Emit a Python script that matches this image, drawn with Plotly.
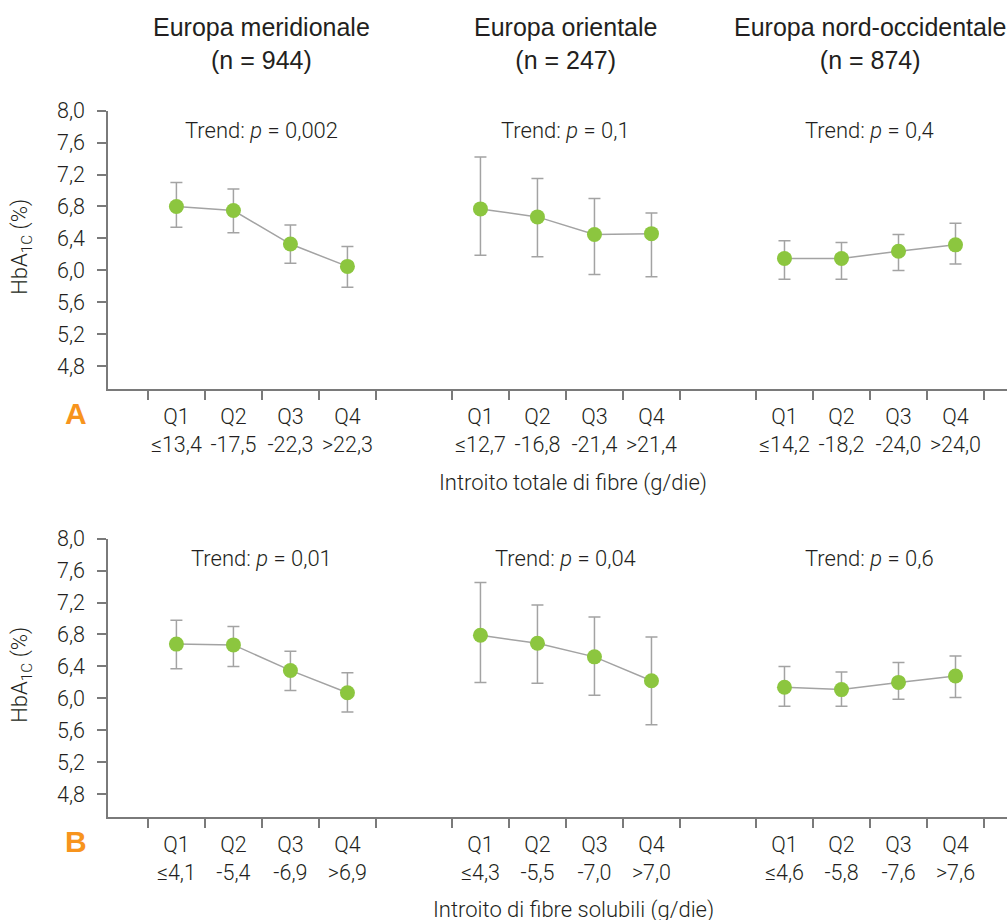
import plotly.graph_objects as go

# --- data -------------------------------------------------------------
regions = ["Europa meridionale", "Europa orientale", "Europa nord-occidentale"]
region_n = [944, 247, 874]
quartiles = ["Q1", "Q2", "Q3", "Q4"]

# Panel A: total fibre intake
cut_total = [["≤13,4", "-17,5", "-22,3", ">22,3"],
             ["≤12,7", "-16,8", "-21,4", ">21,4"],
             ["≤14,2", "-18,2", "-24,0", ">24,0"]]
hba_total = [[6.80, 6.75, 6.33, 6.05],
             [6.77, 6.67, 6.45, 6.46],
             [6.15, 6.15, 6.24, 6.32]]
hi_total = [[7.10, 7.02, 6.57, 6.30],
            [7.42, 7.15, 6.90, 6.72],
            [6.37, 6.35, 6.45, 6.59]]
lo_total = [[6.54, 6.47, 6.09, 5.79],
            [6.19, 6.17, 5.95, 5.92],
            [5.89, 5.89, 6.00, 6.08]]
p_total = ["0,002", "0,1", "0,4"]

# Panel B: soluble fibre intake
cut_sol = [["≤4,1", "-5,4", "-6,9", ">6,9"],
           ["≤4,3", "-5,5", "-7,0", ">7,0"],
           ["≤4,6", "-5,8", "-7,6", ">7,6"]]
hba_sol = [[6.68, 6.67, 6.35, 6.07],
           [6.79, 6.69, 6.52, 6.22],
           [6.14, 6.11, 6.20, 6.28]]
hi_sol = [[6.98, 6.90, 6.59, 6.32],
          [7.45, 7.17, 7.02, 6.77],
          [6.40, 6.33, 6.45, 6.53]]
lo_sol = [[6.37, 6.40, 6.10, 5.83],
          [6.20, 6.19, 6.04, 5.67],
          [5.90, 5.90, 5.99, 6.01]]
p_sol = ["0,01", "0,04", "0,6"]

y_ticks = [4.8, 5.2, 5.6, 6.0, 6.4, 6.8, 7.2, 7.6, 8.0]

# --- styling ----------------------------------------------------------
W, H = 1007, 920
GREEN = "#8cc63f"
GREY = "#a3a3a3"
AXIS = "#7a7a7a"
TEXT = "#231f20"
ORANGE = "#f7941d"
LIGHT = dict(family="Roboto, Liberation Sans, Arial", size=21.5, color=TEXT, weight=300)
REG = dict(family="Liberation Sans, Arial", size=25, color=TEXT)

GROUP = 16 / 3.0          # spacing between regional groups (x units)
X_RANGE = [-0.70, 15.07]
X_DOMAIN = [108 / W, 1.0]


def py(px):
    """Vertical page position (pixels from top) -> paper fraction."""
    return 1 - ((px - 11.2) / 0.989) / H


def px_x(u):
    """Data x -> paper fraction."""
    return (108 + (u - X_RANGE[0]) / (X_RANGE[1] - X_RANGE[0]) * (W - 108)) / W


rows = [
    dict(hba=hba_total, hi=hi_total, lo=lo_total, cut=cut_total, p=p_total,
         top=110, bottom=389, x="x", y="y", xl="x3",
         letter="A", title="Introito totale di fibre (g/die)", title_y=483),
    dict(hba=hba_sol, hi=hi_sol, lo=lo_sol, cut=cut_sol, p=p_sol,
         top=539, bottom=817.7, x="x2", y="y2", xl="x4",
         letter="B", title="Introito di fibre solubili (g/die)", title_y=911),
]

fig = go.Figure()
layout = dict(
    width=W, height=H, margin=dict(l=0, r=0, t=0, b=0),
    paper_bgcolor="white", plot_bgcolor="white", showlegend=False,
    separators=",.", font=LIGHT,
)
annotations = []

for r, row in enumerate(rows):
    dom = [py(row["bottom"]), py(row["top"])]
    for g in range(3):
        xs = [g * GROUP + i + 0.5 for i in range(4)]
        ys = row["hba"][g]
        plus = [h - v for h, v in zip(row["hi"][g], ys)]
        minus = [v - l for v, l in zip(ys, row["lo"][g])]
        fig.add_trace(go.Scatter(
            x=xs, y=ys, mode="lines+markers", xaxis=row["x"], yaxis=row["y"],
            line=dict(color=GREY, width=1.5),
            marker=dict(color=GREEN, size=15, line=dict(width=0)),
            error_y=dict(type="data", symmetric=False, array=plus, arrayminus=minus,
                         color=GREY, thickness=1.5, width=6),
            hoverinfo="skip",
        ))
        # category labels carried by an overlaid axis
        fig.add_trace(go.Scatter(
            x=xs, y=[None] * 4, mode="markers", xaxis=row["xl"], yaxis=row["y"],
            showlegend=False, hoverinfo="skip",
        ))
        cx = px_x(g * GROUP + 2)
        annotations.append(dict(
            x=cx, y=py(row["top"] + 20), xref="paper", yref="paper",
            text=f"Trend: <i>p</i> = {row['p'][g]}", showarrow=False,
            font=dict(LIGHT, size=22), xanchor="center", yanchor="middle"))
        if r == 0:
            annotations.append(dict(
                x=cx, y=py(42.5), xref="paper", yref="paper",
                text=f"{regions[g]}<br>(n = {region_n[g]})", showarrow=False,
                font=REG, xanchor="center", yanchor="middle"))

    boundaries = [g * GROUP + i for g in range(3) for i in range(5)]
    labels_x = [g * GROUP + i + 0.5 for g in range(3) for i in range(4)]
    labels_t = [f"{quartiles[i]}<br>{row['cut'][g][i]}" for g in range(3) for i in range(4)]

    ax_main = dict(
        domain=X_DOMAIN, range=X_RANGE, anchor=row["y"],
        showline=True, linecolor=AXIS, linewidth=1.5, showgrid=False, zeroline=False,
        tickvals=boundaries, ticktext=[""] * len(boundaries),
        ticks="outside", ticklen=9, tickwidth=1.5, tickcolor=AXIS,
    )
    ax_lab = dict(
        domain=X_DOMAIN, range=X_RANGE, anchor=row["y"], overlaying=row["x"],
        side="bottom", showline=False, showgrid=False, zeroline=False,
        tickvals=labels_x, ticktext=labels_t, ticks="outside", ticklen=8,
        tickcolor="rgba(0,0,0,0)", tickfont=LIGHT,
    )
    ax_y = dict(
        domain=dom, range=[4.516, 8.0], anchor=row["x"],
        showline=True, linecolor=AXIS, linewidth=1.5, showgrid=False, zeroline=False,
        tickvals=y_ticks, tickformat=".1f", ticks="outside", ticklen=9,
        tickwidth=1.5, tickcolor=AXIS, tickfont=LIGHT, ticklabelstandoff=8,
    )
    xi = "" if r == 0 else "2"
    layout["xaxis" + xi] = ax_main
    layout["xaxis" + ("3" if r == 0 else "4")] = ax_lab
    layout["yaxis" + xi] = ax_y

    ymid = py((row["top"] + row["bottom"]) / 2 - 3)
    annotations.append(dict(
        x=22 / W, y=ymid, xref="paper", yref="paper", textangle=-90,
        text="HbA<sub>1C</sub> (%)", showarrow=False, font=dict(LIGHT, size=22),
        xanchor="center", yanchor="middle"))
    annotations.append(dict(
        x=76 / W, y=py(row["bottom"] + 25), xref="paper", yref="paper",
        text=f"<b>{row['letter']}</b>", showarrow=False,
        font=dict(family="Liberation Sans, Arial", size=30, color=ORANGE),
        xanchor="center", yanchor="middle"))
    annotations.append(dict(
        x=573 / W, y=py(row["title_y"]), xref="paper", yref="paper",
        text=row["title"], showarrow=False, font=dict(LIGHT, size=22),
        xanchor="center", yanchor="middle"))

layout["annotations"] = annotations
fig.update_layout(**layout)
fig.write_html("out.html")
